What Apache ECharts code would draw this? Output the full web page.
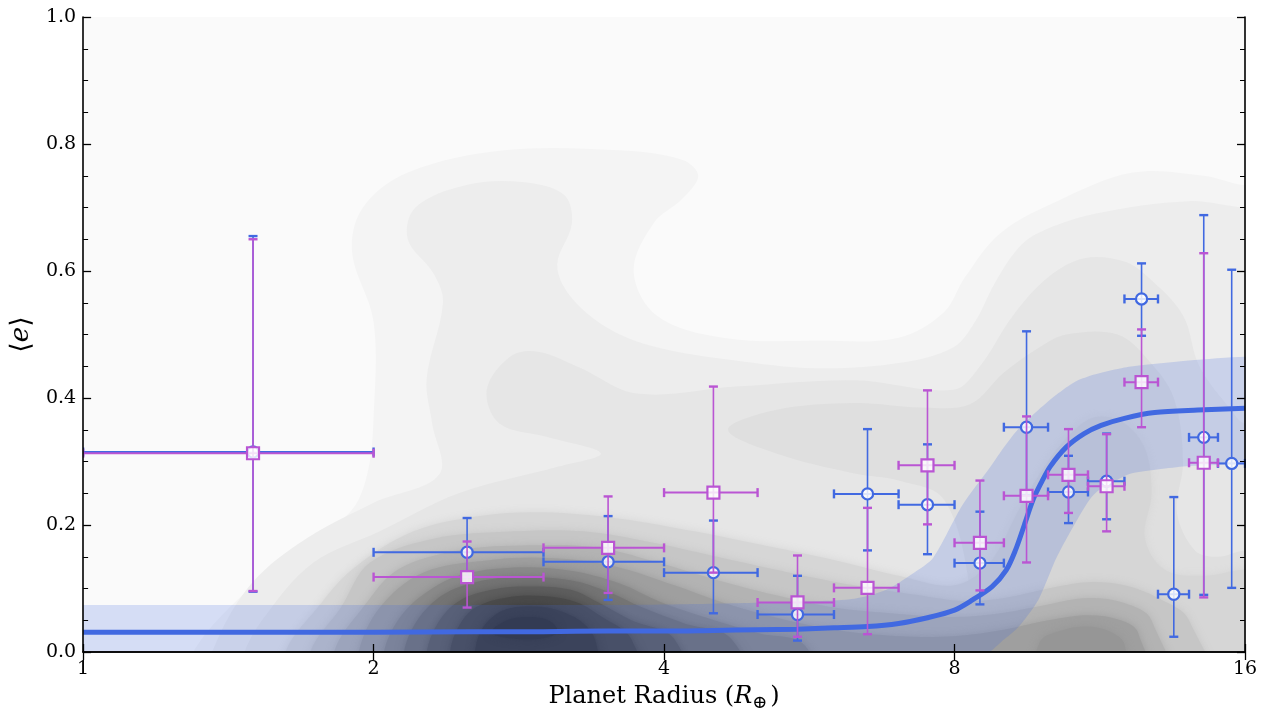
<!DOCTYPE html>
<html>
<head>
<meta charset="utf-8">
<title>Eccentricity vs planet radius</title>
<script src="https://cdn.jsdelivr.net/npm/echarts@6/dist/echarts.min.js"></script>
<style>
  html, body { margin: 0; padding: 0; background: #ffffff; }
  #chart { width: 1268px; height: 720px; }
</style>
</head>
<body>
<div id="chart"></div>
<script>
// radius bins (Earth radii)
const binLow = [1, 2, 3, 4, 5, 6, 7, 8, 9, 10, 11, 12, 13, 14, 15];
const binHigh = [2, 3, 4, 5, 6, 7, 8, 9, 10, 11, 12, 13, 14, 15, 16];
const binMid = [1.5, 2.5, 3.5, 4.5, 5.5, 6.5, 7.5, 8.5, 9.5, 10.5, 11.5, 12.5, 13.5, 14.5, 15.5];

// blue circles: mean eccentricity and interval bounds
const blueMean = [0.315, 0.157, 0.142, 0.125, 0.059, 0.249, 0.232, 0.140, 0.354, 0.252, 0.269, 0.556, 0.091, 0.338, 0.297];
const blueLow = [0.095, 0.118, 0.082, 0.061, 0.018, 0.160, 0.154, 0.075, 0.247, 0.203, 0.209, 0.498, 0.024, 0.090, 0.101];
const blueHigh = [0.655, 0.211, 0.214, 0.207, 0.120, 0.351, 0.327, 0.221, 0.505, 0.309, 0.344, 0.612, 0.244, 0.688, 0.602];

// magenta squares (no value in the 13-14 and 15-16 bins)
const magentaMean = [0.313, 0.118, 0.164, 0.251, 0.078, 0.101, 0.294, 0.172, 0.246, 0.279, 0.261, 0.425, null, 0.298, null];
const magentaLow = [0.096, 0.070, 0.093, 0.125, 0.024, 0.028, 0.201, 0.097, 0.141, 0.219, 0.190, 0.354, null, 0.086, null];
const magentaHigh = [0.650, 0.174, 0.245, 0.418, 0.152, 0.227, 0.412, 0.270, 0.371, 0.351, 0.343, 0.508, null, 0.628, null];

// fitted relation and its band
const curveX = [1, 1.5, 2, 2.5, 3, 3.5, 4, 4.5, 5, 5.5, 6, 6.5, 7, 7.5, 8, 8.35, 8.75, 9.05, 9.25, 9.45, 9.65, 9.85, 10.05, 10.45, 10.9, 11.35, 12, 12.9, 14.3, 16];
const curveY = [0.031, 0.031, 0.031, 0.032, 0.032, 0.033, 0.033, 0.034, 0.035, 0.036, 0.038, 0.040, 0.045, 0.054, 0.066, 0.082, 0.103, 0.129, 0.160, 0.200, 0.240, 0.268, 0.292, 0.323, 0.344, 0.357, 0.368, 0.377, 0.381, 0.384];
const bandX = [0.7, 0.75, 1.5, 2.2, 3, 3.6, 4.5, 5.5, 6.3, 6.8, 7.25, 7.6, 8.15, 8.7, 8.93, 9.3, 9.77, 10.2, 10.68, 11.17, 12, 12.25, 14, 16, 21, 22];
const bandHigh = [0.074, 0.074, 0.074, 0.074, 0.074, 0.074, 0.076, 0.079, 0.084, 0.098, 0.124, 0.148, 0.231, 0.290, 0.315, 0.350, 0.381, 0.405, 0.426, 0.437, 0.448, 0.450, 0.459, 0.465, 0.467, 0.467];
const bandLow = [-0.03, -0.03, -0.03, -0.03, -0.03, -0.03, -0.03, -0.03, -0.03, -0.03, -0.03, -0.03, -0.03, 0.0, 0.015, 0.038, 0.082, 0.148, 0.204, 0.249, 0.277, 0.282, 0.293, 0.295, 0.296, 0.296];

const densityL1 = [[1.22, -0.1], [1.30, 0], [1.44, 0.08], [1.67, 0.16], [1.89, 0.22], [1.97, 0.28], [2.0, 0.37], [2.0, 0.52], [1.9, 0.63], [1.95, 0.70], [2.17, 0.755], [2.73, 0.79], [3.59, 0.79], [4.18, 0.775], [4.34, 0.75], [4.18, 0.714], [3.9, 0.675], [3.72, 0.6], [3.93, 0.53], [4.6, 0.495], [5.8, 0.49], [7.0, 0.495], [7.8, 0.535], [8.2, 0.59], [8.93, 0.66], [10.22, 0.71], [12.24, 0.755], [14.5, 0.75], [16, 0.735], [20, 0.73], [20, -0.1]];
const densityL2 = [[1.3, -0.1], [1.36, 0], [1.48, 0.1], [1.67, 0.17], [2.0, 0.235], [2.34, 0.28], [2.3, 0.36], [2.27, 0.43], [2.36, 0.55], [2.31, 0.595], [2.17, 0.65], [2.21, 0.70], [2.49, 0.735], [2.85, 0.74], [3.15, 0.72], [3.21, 0.675], [3.1, 0.61], [3.2, 0.56], [3.5, 0.51], [3.93, 0.48], [4.7, 0.46], [5.74, 0.447], [7.0, 0.455], [7.98, 0.48], [8.4, 0.52], [8.8, 0.58], [9.3, 0.635], [9.77, 0.66], [11.18, 0.69], [14.0, 0.71], [16, 0.7], [20, 0.7], [20, -0.1]];
const densityL3 = [[1.42, -0.1], [1.47, 0], [1.55, 0.06], [1.73, 0.14], [2.03, 0.19], [2.45, 0.25], [3.11, 0.292], [3.44, 0.313], [3.02, 0.339], [2.7, 0.36], [2.62, 0.413], [2.77, 0.465], [2.96, 0.473], [3.26, 0.449], [3.75, 0.407], [4.75, 0.418], [6.3, 0.428], [7.98, 0.413], [8.5, 0.45], [9.2, 0.53], [10, 0.59], [10.9, 0.62], [12, 0.615], [12.7, 0.59], [13.8, 0.53], [14.35, 0.45], [15.5, 0.38], [16, 0.36], [20, 0.35], [20, -0.1]];
const densityL4 = [[4.66, 0.35], [5.22, 0.381], [6.3, 0.392], [7.4, 0.385], [8.3, 0.39], [9.0, 0.44], [9.8, 0.48], [10.45, 0.5], [11.8, 0.5], [12.7, 0.46], [13.5, 0.4], [13.8, 0.3], [13.6, 0.22], [14.2, 0.16], [15, 0.15], [16, 0.16], [20, 0.16], [20, -0.1], [8.5, -0.1], [8.3, 0.1], [7.8, 0.24], [7.0, 0.27], [6.3, 0.281], [5.22, 0.313]];
const densityL5 = [[1.58, -0.1], [1.62, 0], [1.75, 0.07], [1.9, 0.13], [2.2, 0.19], [2.6, 0.215], [3.0, 0.22], [3.6, 0.21], [4.3, 0.19], [5.0, 0.17], [6.0, 0.145], [7.0, 0.12], [8.0, 0.105], [8.7, 0.14], [9.3, 0.22], [9.8, 0.28], [10.5, 0.34], [11.2, 0.37], [12.0, 0.36], [12.6, 0.32], [12.8, 0.25], [12.6, 0.18], [13.2, 0.13], [14.5, 0.12], [16, 0.13], [20, 0.13], [20, -0.1]];
const densityL6 = [[1.7, -0.1], [1.72, 0], [1.85, 0.07], [1.98, 0.14], [2.3, 0.178], [2.8, 0.19], [3.3, 0.19], [3.9, 0.172], [4.6, 0.148], [5.4, 0.125], [6.3, 0.105], [7.3, 0.09], [8.2, 0.08], [9.0, 0.085], [10, 0.1], [11, 0.11], [12, 0.105], [13, 0.085], [14, 0.05], [14.8, -0.1]];
const densityL7 = [[1.8, -0.1], [1.82, 0], [1.95, 0.07], [2.12, 0.13], [2.45, 0.16], [2.9, 0.168], [3.4, 0.165], [3.9, 0.143], [4.5, 0.115], [5.2, 0.09], [6.0, 0.07], [7.0, 0.06], [8.0, 0.055], [9.0, 0.062], [10, 0.075], [11, 0.085], [12, 0.077], [12.8, 0.05], [13.4, -0.1]];
const densityL8 = [[1.9, -0.1], [1.93, 0], [2.03, 0.07], [2.25, 0.125], [2.65, 0.145], [3.05, 0.148], [3.55, 0.135], [4.1, 0.105], [4.6, 0.078], [5.2, 0.055], [6.0, 0.035], [7.0, 0.025], [8.0, 0.025], [9.0, 0.035], [10, 0.05], [11, 0.058], [11.9, 0.05], [12.4, 0.03], [12.8, -0.1]];
const densityL9 = [[2.02, -0.1], [2.05, 0], [2.12, 0.05], [2.25, 0.09], [2.45, 0.12], [2.8, 0.133], [3.2, 0.128], [3.6, 0.108], [3.95, 0.08], [4.4, 0.055], [5.0, 0.03], [5.6, 0.01], [5.9, -0.1]];
const densityCoreRight = [[9.6, -0.1], [9.8, 0.015], [10.4, 0.035], [11, 0.04], [11.6, 0.032], [12, 0.012], [12.1, -0.1]];
const densityL10 = [[2.12, -0.1], [2.15, 0], [2.22, 0.05], [2.36, 0.09], [2.55, 0.11], [2.85, 0.118], [3.2, 0.113], [3.5, 0.095], [3.8, 0.07], [4.2, 0.045], [4.7, 0.02], [5.0, -0.1]];
const densityL11 = [[2.24, -0.1], [2.27, 0], [2.33, 0.045], [2.45, 0.08], [2.65, 0.098], [2.9, 0.103], [3.2, 0.098], [3.4, 0.08], [3.7, 0.05], [4.1, 0.02], [4.3, -0.1]];
const densityL12 = [[2.38, -0.1], [2.4, 0], [2.45, 0.04], [2.55, 0.07], [2.75, 0.086], [3.0, 0.088], [3.25, 0.078], [3.45, 0.055], [3.7, 0.02], [3.85, -0.1]];
const densityL13 = [[2.52, -0.1], [2.55, 0.005], [2.6, 0.04], [2.72, 0.065], [2.9, 0.072], [3.1, 0.066], [3.3, 0.045], [3.4, 0.015], [3.45, -0.1]];
const densityL14 = [[2.65, 0.03], [2.75, 0.05], [2.9, 0.055], [3.05, 0.048], [3.1, 0.03], [2.9, 0.02]];

const densityShapes = [densityL1, densityL2, densityL3, densityL4, densityL5, densityL6, densityL7, densityL8, densityL9, densityCoreRight, densityL10, densityL11, densityL12, densityL13, densityL14];
const densityFills = ['#f4f4f4', '#ededed', '#e6e6e6', '#dfdfdf', '#d6d6d6', '#c6c6c6', '#b3b3b3', '#9f9f9f', '#8a8a8a', '#969696', '#747474', '#5e5e5e', '#4a4a4a', '#3a3a3a', '#303030'];
// the first four levels keep crisp edges, the rest are softened
const SOFT_FROM = 4;

const yTicks = [0, 0.2, 0.4, 0.6, 0.8, 1.0];

const BLUE = '#4169e1';
const MAGENTA = '#ba55d3';
const FONT = 'DejaVu Serif';
const CAP = 4.5;

function buildBars(mean, low, high) {
    const rows = [];
    mean.forEach((value, i) => {
        if (value === null) {
            return;
        }
        rows.push([binMid[i], value, binLow[i], binHigh[i], low[i], high[i]]);
    });
    return rows;
}

function renderDensity(params, api) {
    const i = params.dataIndex;
    const fill = densityFills[i];
    const soft = i >= SOFT_FROM;
    return {
        type: 'polygon',
        shape: { points: densityShapes[i].map(p => api.coord(p)), smooth: 0.35 },
        style: soft ? { fill, shadowBlur: 9, shadowColor: fill } : { fill }
    };
}

function renderBand(params, api) {
    const upper = bandX.map((x, i) => api.coord([x, bandHigh[i]]));
    const lower = bandX.map((x, i) => api.coord([x, bandLow[i]])).reverse();
    return {
        type: 'polygon',
        shape: { points: upper.concat(lower), smooth: 0.25 },
        style: { fill: 'rgba(65, 105, 225, 0.2)' }
    };
}

function errorBars(color, marker) {
    return function (params, api) {
        const x = api.value(0);
        const y = api.value(1);
        const c = api.coord([x, y]);
        const xl = api.coord([api.value(2), y]);
        const xh = api.coord([api.value(3), y]);
        const yl = api.coord([x, api.value(4)]);
        const yh = api.coord([x, api.value(5)]);
        const seg = (x1, y1, x2, y2, w) => ({
            type: 'line',
            shape: { x1, y1, x2, y2 },
            style: { stroke: color, lineWidth: w }
        });
        const markStyle = { fill: 'rgba(255, 255, 255, 0.82)', stroke: color, lineWidth: 2.2 };
        const mark = marker === 'circle'
            ? { type: 'circle', shape: { cx: c[0], cy: c[1], r: 5.6 }, style: markStyle }
            : { type: 'rect', shape: { x: c[0] - 6, y: c[1] - 6, width: 12, height: 12 }, style: markStyle };
        return {
            type: 'group',
            children: [
                seg(c[0], yl[1], c[0], yh[1], 1.6),
                seg(c[0] - CAP, yl[1], c[0] + CAP, yl[1], 2.4),
                seg(c[0] - CAP, yh[1], c[0] + CAP, yh[1], 2.4),
                seg(xl[0], c[1], xh[0], c[1], 2),
                seg(xl[0], c[1] - CAP, xl[0], c[1] + CAP, 2.4),
                seg(xh[0], c[1] - CAP, xh[0], c[1] + CAP, 2.4),
                mark
            ]
        };
    };
}

const axisLine = { show: true, lineStyle: { color: '#000', width: 1.6 } };
const axisTick = { show: true, inside: true, length: 8, lineStyle: { color: '#000', width: 1.3 } };

const chart = echarts.init(document.getElementById('chart'), null, { renderer: 'canvas' });
chart.setOption({
    animation: false,
    backgroundColor: '#ffffff',
    grid: {
        left: 83,
        right: 23,
        top: 17,
        bottom: 68,
        show: true,
        backgroundColor: '#fafafa',
        borderWidth: 0
    },
    xAxis: [{
        type: 'log',
        logBase: 2,
        min: 1,
        max: 16,
        position: 'bottom',
        z: 10,
        axisLine,
        axisTick,
        splitLine: { show: false },
        axisLabel: { color: '#000', fontFamily: FONT, fontSize: 19, margin: 8 },
        name: '{t|Planet Radius (}{i|R}{s|⊕}{t|)}',
        nameLocation: 'middle',
        nameGap: 30,
        nameTextStyle: {
            rich: {
                t: { fontFamily: FONT, fontSize: 24, color: '#000' },
                i: { fontFamily: FONT, fontSize: 24, fontStyle: 'italic', color: '#000' },
                s: { fontFamily: FONT, fontSize: 18, color: '#000', verticalAlign: 'bottom', padding: [12, 3, 0, 0] }
            }
        }
    }, {
        type: 'log',
        logBase: 2,
        min: 1,
        max: 16,
        position: 'top',
        z: 10,
        axisLine,
        axisTick,
        splitLine: { show: false },
        axisLabel: { show: false }
    }],
    yAxis: [{
        type: 'value',
        min: yTicks[0],
        max: yTicks[yTicks.length - 1],
        interval: 0.2,
        position: 'left',
        z: 10,
        axisLine,
        axisTick,
        minorTick: { show: true, splitNumber: 4, length: 5, lineStyle: { color: '#000', width: 1 } },
        splitLine: { show: false },
        axisLabel: { color: '#000', fontFamily: FONT, fontSize: 19, margin: 7, formatter: v => v.toFixed(1) },
        name: '{a|⟨}{i|e}{a|⟩}',
        nameLocation: 'middle',
        nameRotate: 90,
        nameGap: 41,
        nameTextStyle: {
            rich: {
                a: { fontFamily: FONT, fontSize: 27, color: '#000' },
                i: { fontFamily: FONT, fontSize: 26, fontStyle: 'italic', color: '#000' }
            }
        }
    }, {
        type: 'value',
        min: yTicks[0],
        max: yTicks[yTicks.length - 1],
        interval: 0.2,
        position: 'right',
        z: 10,
        axisLine,
        axisTick,
        minorTick: { show: true, splitNumber: 4, length: 5, lineStyle: { color: '#000', width: 1 } },
        splitLine: { show: false },
        axisLabel: { show: false }
    }],
    series: [{
        name: 'density',
        type: 'custom',
        clip: true,
        z: 1,
        silent: true,
        renderItem: renderDensity,
        encode: { x: 0, y: 1 },
        data: densityShapes.map(shape => shape[0])
    }, {
        name: 'band',
        type: 'custom',
        clip: true,
        z: 2,
        silent: true,
        renderItem: renderBand,
        encode: { x: 0, y: 1 },
        data: [[bandX[2], bandHigh[2]]]
    }, {
        name: 'fit',
        type: 'line',
        z: 3,
        smooth: 0.3,
        symbol: 'none',
        lineStyle: { color: BLUE, width: 5 },
        data: curveX.map((x, i) => [x, curveY[i]])
    }, {
        name: 'blue',
        type: 'custom',
        clip: true,
        z: 4,
        renderItem: errorBars(BLUE, 'circle'),
        encode: { x: 0, y: 1 },
        data: buildBars(blueMean, blueLow, blueHigh)
    }, {
        name: 'magenta',
        type: 'custom',
        clip: true,
        z: 5,
        renderItem: errorBars(MAGENTA, 'square'),
        encode: { x: 0, y: 1 },
        data: buildBars(magentaMean, magentaLow, magentaHigh)
    }]
});

window.addEventListener('resize', () => {
    chart.resize();
});
</script>
</body>
</html>
